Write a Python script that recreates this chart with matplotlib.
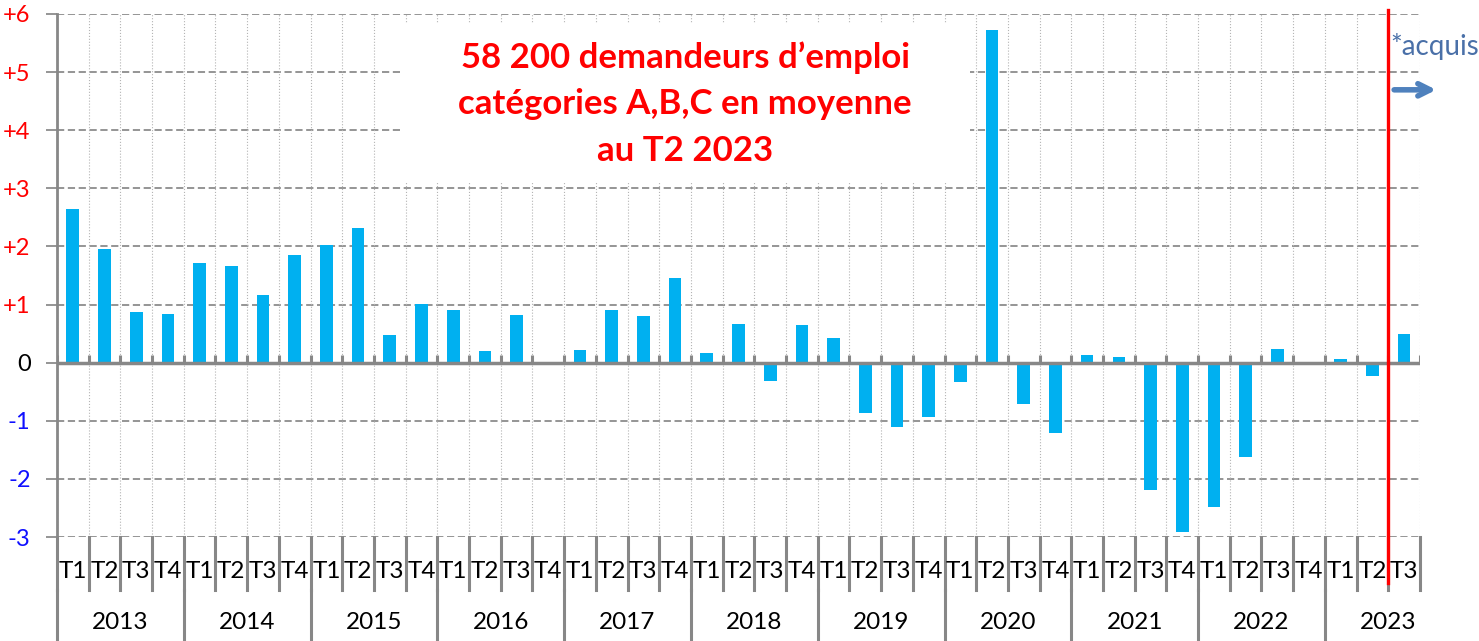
import numpy as np
import matplotlib.pyplot as plt
from matplotlib.patches import Rectangle
from matplotlib.transforms import blended_transform_factory

plt.rcParams['font.family'] = ['Lato', 'DejaVu Sans']

# données : variation trimestrielle (en dizaines de milliers)
years = ['2013', '2014', '2015', '2016', '2017', '2018', '2019', '2020', '2021', '2022', '2023']
quarters = ['T1', 'T2', 'T3', 'T4'] * 10 + ['T1', 'T2', 'T3']
values = [
    2.65, 1.95, 0.88, 0.83,
    1.72, 1.67, 1.16, 1.86,
    2.02, 2.31, 0.47, 1.01,
    0.91, 0.20, 0.82, 0.00,
    0.21, 0.90, 0.80, 1.46,
    0.16, 0.67, -0.31, 0.64,
    0.43, -0.86, -1.11, -0.94,
    -0.34, 5.73, -0.71, -1.21,
    0.13, 0.10, -2.19, -2.91,
    -2.48, -1.62, 0.24, 0.00,
    0.06, -0.23, 0.50,
]
yticks = [-3, -2, -1, 0, 1, 2, 3, 4, 5, 6]
ytick_labels = ['-3', '-2', '-1', '0', '+1', '+2', '+3', '+4', '+5', '+6']
title = "58 200 demandeurs d\u2019emploi\ncat\u00e9gories A,B,C en moyenne\nau T2 2023"

GRAY = '#878787'
n = len(values)
x = np.arange(n)
bounds = np.arange(n + 1) - 0.5

fig = plt.figure(figsize=(14.79, 6.41), dpi=100)
ax = fig.add_axes([0.0385, 0.1622, 0.9216, 0.816])
ax.set_xlim(-0.5, n - 0.5)
ax.set_ylim(-3, 6)

# grille
ax.set_yticks(yticks)
ax.yaxis.grid(True, linestyle=(0, (4, 2)), color='#8c8c8c', lw=1.3, zorder=0)
ax.vlines(bounds, -3, 6, colors='#b4b4b4', lw=0.8, linestyles=':', zorder=0.6)
ax.set_axisbelow(True)

# cadre blanc du titre
ax.add_patch(Rectangle((0.252, 0.679), 0.418, 0.304, transform=ax.transAxes,
                       facecolor='white', edgecolor='none', zorder=1))
ax.text(0.461, 0.828, title, transform=ax.transAxes, ha='center', va='center',
        color='red', fontsize=25, fontweight='bold', linespacing=1.55, zorder=5)

ax.bar(x, values, width=0.4, color='#00b0f0', zorder=3)

# axe zéro avec petites graduations
ax.axhline(0, color=GRAY, lw=2.5, zorder=4)
ax.vlines(bounds, 0, 0.13, colors=GRAY, lw=2.2, zorder=4)

for s in ['top', 'right', 'bottom']:
    ax.spines[s].set_visible(False)
ax.spines['left'].set_color(GRAY)
ax.spines['left'].set_linewidth(2)
ax.set_xticks([])
ax.tick_params(axis='y', length=8, width=1.3, color='#8c8c8c', pad=11, labelsize=17)
ax.set_yticklabels(ytick_labels)
for lab, v in zip(ax.get_yticklabels(), yticks):
    lab.set_color('red' if v > 0 else ('black' if v == 0 else '#1010ff'))

# étiquettes de catégories
tr = blended_transform_factory(ax.transData, ax.transAxes)
for b in bounds:
    ax.plot([b, b], [0, -0.101], color=GRAY, lw=2.2, transform=tr, clip_on=False)
for b in bounds[0:len(years) * 4 - 3:4]:
    ax.plot([b, b], [-0.101, -0.199], color=GRAY, lw=2.2, transform=tr, clip_on=False)
for xi, q in zip(x, quarters):
    ax.text(xi, -0.065, q, transform=tr, ha='center', va='center', fontsize=17.5)
for i, y in enumerate(years):
    ax.text(i * 4 + 1.5, -0.164, y, transform=tr, ha='center', va='center', fontsize=17.5)

# séparation T2 / T3 2023
ax.plot([n - 1.5, n - 1.5], [1.008, -0.088], color='red', lw=2.4, transform=tr,
        clip_on=False, zorder=6)
ax.text(0.978, 0.937, '*acquis', transform=ax.transAxes, ha='left', va='center',
        color='#4a70a8', fontsize=20)
ax.annotate('', xy=(1.014, 0.855), xytext=(0.979, 0.855), xycoords='axes fraction',
            arrowprops=dict(arrowstyle='->', color='#4f81bd', lw=4, mutation_scale=22))

fig.savefig('out.png', dpi=100)
